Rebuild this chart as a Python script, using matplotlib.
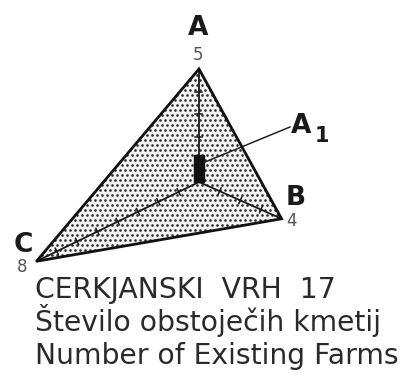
import matplotlib.pyplot as plt
from matplotlib.patches import Polygon
import numpy as np

# axis names, values at the vertices and the A1 bar
labels = ['A', 'B', 'C']
values = [5, 4, 8]
a1_value = 1.2
title_lines = ['CERKJANSKI  VRH  17',
               'Število obstoječih kmetij',
               'Number of Existing Farms']

# layout (pixels)
angles = np.radians([90, -24, 206])
cx, cy = 199, 182
unit = 22.6

fig = plt.figure(figsize=(4.06, 3.78), dpi=100)
ax = fig.add_axes([0, 0, 1, 1])
ax.set_xlim(0, 406)
ax.set_ylim(378, 0)
ax.axis('off')

vals = np.array(values, dtype=float)
vx = cx + vals * unit * np.cos(angles)
vy = cy - vals * unit * np.sin(angles)

tri = Polygon(np.column_stack([vx, vy]), closed=True, facecolor='white',
              edgecolor='#111111', lw=2.0, zorder=6)
tri_fill = Polygon(np.column_stack([vx, vy]), closed=True, facecolor='#f4f4f4',
                   edgecolor='none', zorder=2)
ax.add_patch(tri_fill)
tri.set_facecolor('none')
ax.add_patch(tri)

# stipple inside the triangle
gx, gy = np.meshgrid(np.arange(0, 406, 5.0), np.arange(0, 300, 5.0))
gx = gx + (np.arange(gx.shape[0])[:, None] % 2) * 2.5
dots = ax.scatter(gx.ravel(), gy.ravel(), s=3.6, color='#2e2e2e', lw=0, zorder=3)
dots.set_clip_path(tri_fill)

# axes from centre to each vertex, with unit ticks
for i in range(3):
    ax.plot([cx, vx[i]], [cy, vy[i]], color='#1a1a1a', lw=1.3, zorder=4)
    dx, dy = np.cos(angles[i]), -np.sin(angles[i])
    px, py = -dy, dx
    for k in range(1, values[i]):
        tx, ty = cx + k * unit * dx, cy + k * unit * dy
        ax.plot([tx - 3.5 * px, tx + 3.5 * px], [ty - 3.5 * py, ty + 3.5 * py],
                color='#1a1a1a', lw=1.1, zorder=4)

# A1 bar along the A axis
bar_top = cy - a1_value * unit * np.sin(angles[0])
ax.fill([cx - 5, cx + 5, cx + 5, cx - 5], [cy, cy, bar_top, bar_top],
        color='#111111', zorder=5)
ax.plot([cx + 6, 290], [162, 127], color='#222222', lw=1.1, zorder=5)
ax.text(291, 133, 'A', fontsize=19, fontweight='bold', color='#1a1a1a',
        family='DejaVu Sans', ha='left', va='baseline', zorder=6)
ax.text(315, 142, '1', fontsize=15, fontweight='bold', color='#1a1a1a',
        family='DejaVu Sans', ha='left', va='baseline', zorder=6)

# vertex labels and values
label_pos = [(198, 35), (296, 205), (23, 252)]
value_pos = [(198, 60), (292, 226), (22, 272)]
for i in range(3):
    ax.text(label_pos[i][0], label_pos[i][1], labels[i], fontsize=19,
            fontweight='bold', color='#1a1a1a', family='DejaVu Sans',
            ha='center', va='baseline')
    ax.text(value_pos[i][0], value_pos[i][1], str(values[i]), fontsize=12,
            color='#555555', family='DejaVu Sans', ha='center', va='baseline')

baselines = [298, 331, 364]
for line, yb in zip(title_lines, baselines):
    ax.text(35, yb, line, fontsize=20.3, color='#2a2a2a', family='DejaVu Sans',
            ha='left', va='baseline')

fig.savefig('out.png', dpi=100)
